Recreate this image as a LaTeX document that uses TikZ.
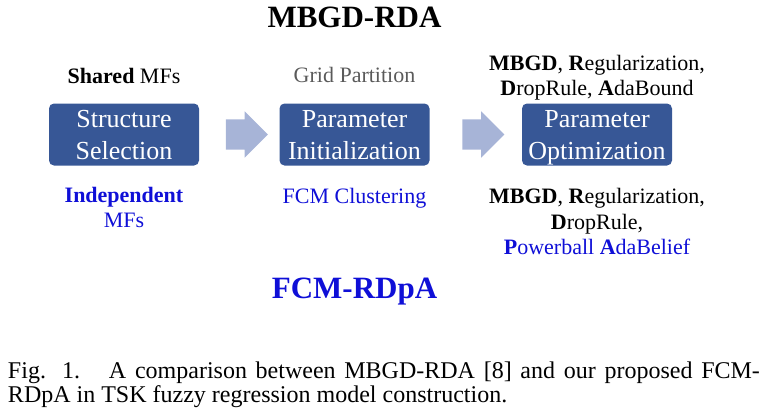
\documentclass[tikz,border=0pt]{standalone}
\usepackage{fontspec}
\setmainfont{Liberation Serif}
\usetikzlibrary{positioning, calc, shapes.arrows}

\definecolor{boxblue}{RGB}{55,87,150}
\definecolor{arrowblue}{RGB}{167,180,215}
\definecolor{ourblue}{RGB}{15,15,215}
\definecolor{gridgray}{RGB}{90,90,90}

\begin{document}
\begin{tikzpicture}[x=1pt,y=-1pt,node distance=60pt,on grid,
  stage/.style={rectangle, rounded corners=5pt, fill=boxblue, text=white,
    minimum width=150pt, minimum height=62pt, inner sep=0pt, align=center,
    text depth=0pt, font=\fontsize{26}{32}\selectfont},
  flow/.style={single arrow, fill=arrowblue, draw=none, minimum height=42pt,
    inner xsep=0pt, inner ysep=15pt, single arrow head extend=8pt},
  tag/.style={align=center, inner sep=0pt, font=\fontsize{22}{25.5}\selectfont},
  headline/.style={inner sep=0pt, font=\fontsize{31}{36}\selectfont\bfseries}]
  \useasboundingbox (0,0) rectangle (764,413);
  \node[stage]          (sel)  at (124,134.5)        {Structure\\Selection};
  \node[stage]          (init) [right =230.5pt of sel]  {Parameter\\Initialization};
  \node[stage]          (opt)  [right =242.5pt of init] {Parameter\\Optimization};
  \node[flow] (a1) at ($(sel.east)!0.5!(init.west)$) {};
  \node[flow] (a2) at ($(init.east)!0.5!(opt.west)$) {};
  % MBGD-RDA above
  \node[headline]       (rda)  [above =117pt of init] {MBGD-RDA};
  \node[tag]            (shared) [above =59pt of sel]  {\textbf{Shared} MFs};
  \node[tag,text=gridgray] (grid) [above =60pt of init] {Grid Partition};
  \node[tag]            (optup) [above =57pt of opt]
    {\textbf{MBGD}, \textbf{R}egularization,\\\textbf{D}ropRule, \textbf{A}daBound};
  % FCM-RDpA below
  \node[tag,text=ourblue] (indep) [below =73pt of sel]  {\textbf{Independent}\\MFs};
  \node[tag,text=ourblue] (fcm) [below =63.5pt of init] {FCM Clustering};
  \node[tag]            (optdown) [below =87pt of opt]
    {\textbf{MBGD}, \textbf{R}egularization,\\\textbf{D}ropRule,\\
     \textcolor{ourblue}{\textbf{P}owerball \textbf{A}daBelief}};
  \node[headline,text=ourblue] (rdpa) [below =157pt of init] {FCM-RDpA};
  \node[inner sep=0pt, text width=752pt, align=justify,
    font=\fontsize{24}{24}\selectfont] (cap) at (384,384.4)
    {Fig. 1.\hspace{1.2em}A comparison between MBGD-RDA [8] and our proposed FCM-\linebreak
     RDpA in TSK fuzzy regression model construction.};
\end{tikzpicture}
\end{document}
